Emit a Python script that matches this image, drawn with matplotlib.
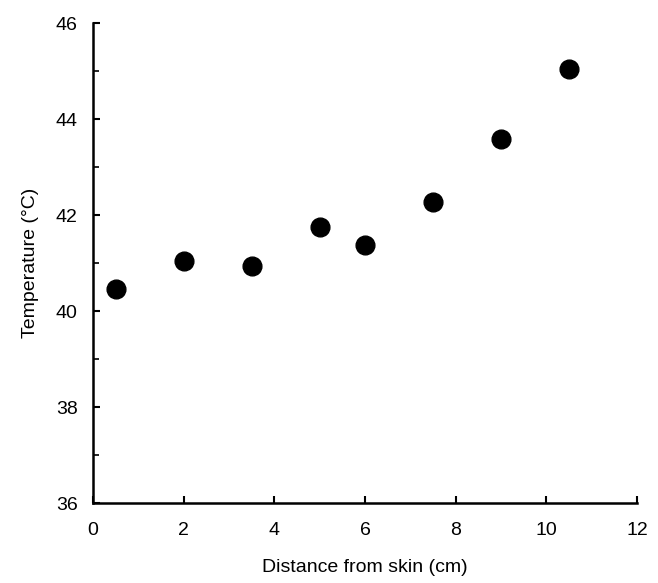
import matplotlib
matplotlib.use("Agg")
import matplotlib.pyplot as plt
from matplotlib.ticker import MultipleLocator

plt.rcParams['font.family'] = ['Liberation Sans', 'DejaVu Sans']

# data
distance = [0.5, 2, 3.5, 5, 6, 7.5, 9, 10.5]
temperature = [40.45, 41.05, 40.93, 41.75, 41.38, 42.28, 43.58, 45.05]

fig = plt.figure(figsize=(6.58, 5.83), dpi=100)
ax = fig.add_axes([0.1413, 0.1372, 0.8267, 0.8233])

ax.plot(distance, temperature, 'o', color='black', markersize=13.5, clip_on=False)

ax.set_xlim(0, 12)
ax.set_ylim(36, 46)
ax.xaxis.set_major_locator(MultipleLocator(2))
ax.yaxis.set_major_locator(MultipleLocator(2))
ax.yaxis.set_minor_locator(MultipleLocator(1))

for s in ['top', 'right']:
    ax.spines[s].set_visible(False)
for s in ['left', 'bottom']:
    ax.spines[s].set_linewidth(1.8)

ax.tick_params(axis='both', which='major', direction='in', length=5, width=1.5,
               labelsize=14)
ax.tick_params(axis='x', which='major', pad=14)
ax.tick_params(axis='y', which='major', pad=11)
ax.tick_params(axis='y', which='minor', direction='in', length=4, width=1.2)

ax.set_xlabel('Distance from skin (cm)', fontsize=14, labelpad=14)
ax.set_ylabel('Temperature (\u00b0C)', fontsize=14, labelpad=12)

fig.savefig('out.png', dpi=100)
